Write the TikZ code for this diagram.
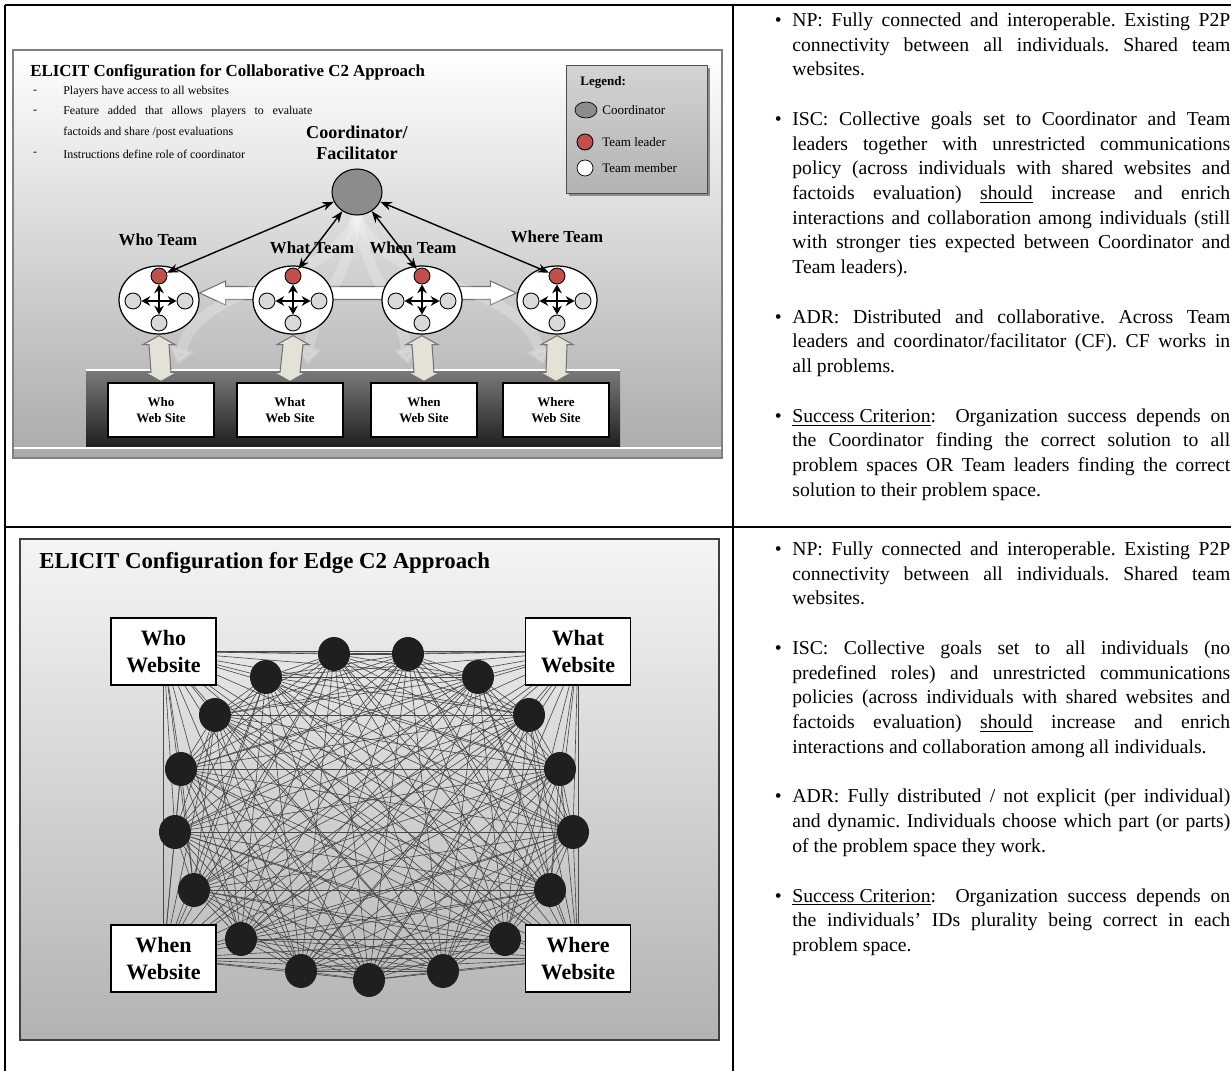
\documentclass[tikz,border=0pt]{standalone}
\usepackage{fontspec}
\setmainfont{Liberation Serif}
\usetikzlibrary{shapes.geometric, arrows.meta, positioning, calc}
\tolerance=9999
\hyphenpenalty=10000
\hbadness=10000
\frenchspacing

\pgfdeclarelayer{back}
\pgfdeclarelayer{links}
\pgfsetlayers{back,links,main}

\definecolor{leadred}{HTML}{C0504D}
\definecolor{membgray}{HTML}{D9D9D9}
\definecolor{hubgray}{HTML}{8C8C8C}
\definecolor{linkbeige}{HTML}{E4E2D6}

\tikzstyle{arrow} = [line width=0.8pt,<->,>=Stealth]
\tikzstyle{inarrow} = [line width=1.3pt,<->,>={Stealth[length=5pt,width=5.5pt]}]
\tikzstyle{tabrule} = [line width=1.2pt]
\tikzstyle{hub} = [ellipse, draw, fill=hubgray, minimum width=1cm, minimum height=0.92cm, line width=0.6pt]
\tikzstyle{team} = [ellipse, draw, fill=white, minimum width=1.6cm, minimum height=1.36cm, line width=0.7pt]
\tikzstyle{leader} = [circle, draw, fill=leadred, minimum size=0.32cm, inner sep=0pt, line width=0.5pt]
\tikzstyle{member} = [circle, draw, fill=membgray, minimum size=0.32cm, inner sep=0pt, line width=0.5pt]
\tikzstyle{site} = [draw, fill=white, minimum width=2.12cm, minimum height=1.08cm, align=center, inner sep=1pt, line width=0.7pt, font=\fontsize{7.4}{9}\selectfont\bfseries]
\tikzstyle{teamlbl} = [inner sep=0pt, font=\fontsize{9.6}{11}\selectfont\bfseries]
\tikzstyle{small} = [inner sep=0pt, font=\fontsize{6.8}{8}\selectfont]
\tikzstyle{legendtxt} = [anchor=west, inner sep=0pt, font=\fontsize{7.4}{9}\selectfont]
\tikzstyle{updown} = [draw=black!55, fill=linkbeige, line width=0.6pt, line join=miter]
\tikzstyle{sidebar} = [draw=black!55, fill=white, line width=0.6pt]
\tikzstyle{flowband} = [white, opacity=0.22, line width=6pt, -{Triangle[length=9pt,width=14pt]}]
\tikzstyle{agent} = [ellipse, fill=black!88, minimum width=0.64cm, minimum height=0.68cm, inner sep=0pt]
\tikzstyle{website} = [draw, fill=white, minimum width=2.1cm, minimum height=1.34cm, align=center, inner sep=1pt, line width=0.7pt, font=\fontsize{12.5}{15.3}\selectfont\bfseries]
\tikzstyle{tie} = [black!72, line width=0.35pt]
\tikzstyle{note} = [anchor=north west, text width=8.76cm, align=justify, inner sep=0pt, font=\fontsize{11.2}{14}\selectfont]

\begin{document}
\begin{tikzpicture}[x=0.02cm, y=-0.02cm]
        \useasboundingbox (0,0) rectangle (1231,1071);

        %table rules
        \draw [tabrule] (5,5) -- (1231,5);
        \draw [tabrule] (5,5) -- (5,1071);
        \draw [tabrule] (733,5) -- (733,1071);
        \draw [tabrule] (5,527) -- (1231,527);

        %panel backgrounds
        \begin{pgfonlayer}{back}
        \shade [top color=white, bottom color=black!33] (13,50) rectangle (722,458);
        \draw [black!50, line width=0.8pt] (13,50) rectangle (722,458);
        \shade [top color=black!52, bottom color=black!88] (86,370) rectangle (620,447);
        \draw [white, line width=1pt] (86,370) -- (620,370);
        \draw [white, line width=1pt] (14,448) -- (721,448);
        \fill [black!45] (569,68) rectangle (710,196);
        \shade [top color=black!4, bottom color=black!30] (20,539) rectangle (719,1040);
        \draw [black!75, line width=1.2pt] (20,539) rectangle (719,1040);
        \end{pgfonlayer}

        %collaborative title and notes
        \node at (30,72) [anchor=west, inner sep=0pt, font=\fontsize{9.6}{11}\selectfont\bfseries] (colltitle) {ELICIT Configuration for Collaborative C2 Approach};
        \node at (35,92) [small] (dash1) {-};
        \node at (63,92) [small, anchor=west] (item1) {Players have access to all websites};
        \node at (35,112) [small] (dash2) {-};
        \node at (63,112) [small, anchor=west] (item2) {\makebox[4.98cm][s]{Feature added that allows players to evaluate}};
        \node at (63,133) [small, anchor=west] (item2b) {factoids and share /post evaluations};
        \node at (35,154) [small] (dash3) {-};
        \node at (63,154) [small, anchor=west] (item3) {Instructions define role of coordinator};

        %legend
        \node at (636.5,129) [draw=black!70, top color=black!17, bottom color=black!30, minimum width=2.82cm, minimum height=2.56cm, inner sep=0pt] (legend) {};
        \node at (580,82) [legendtxt, font=\fontsize{7.4}{9}\selectfont\bfseries] (legendhead) {Legend:};
        \node at (586,110) [ellipse, draw, fill=hubgray, minimum width=0.44cm, minimum height=0.32cm, inner sep=0pt] (keyhub) {};
        \node at (602,110) [legendtxt] (keyhubtxt) {Coordinator};
        \node at (585,142) [leader] (keylead) {};
        \node at (602,142) [legendtxt] (keyleadtxt) {Team leader};
        \node at (585,168) [circle, draw, fill=white, minimum size=0.32cm, inner sep=0pt] (keymemb) {};
        \node at (602,168) [legendtxt] (keymembtxt) {Team member};

        %coordinator
        \node at (357,143) [align=center, inner sep=0pt, font=\fontsize{10.3}{11.9}\selectfont\bfseries] (hublbl) {Coordinator/\\Facilitator};
        \node at (357,192) [hub] (hub) {};

        %team labels
        \node at (158,240) [teamlbl] (wholbl) {Who Team};
        \node at (312,248) [teamlbl] (whatlbl) {What Team};
        \node at (413,248) [teamlbl] (whenlbl) {When Team};
        \node at (557,237) [teamlbl] (wherelbl) {Where Team};

        %teams
        \node at (159,300) [team] (t1) {};
        \node at (159,276) [leader] (l1) {};
        \node at (133,301) [member] (ml1) {};
        \node at (185,301) [member] (mr1) {};
        \node at (159,323) [member] (mb1) {};

        \node at (293,300) [team] (t2) {};
        \node at (293,276) [leader] (l2) {};
        \node at (267,301) [member] (ml2) {};
        \node at (319,301) [member] (mr2) {};
        \node at (293,323) [member] (mb2) {};

        \node at (422,300) [team] (t3) {};
        \node at (422,276) [leader] (l3) {};
        \node at (396,301) [member] (ml3) {};
        \node at (448,301) [member] (mr3) {};
        \node at (422,323) [member] (mb3) {};

        \node at (557,300) [team] (t4) {};
        \node at (557,276) [leader] (l4) {};
        \node at (531,301) [member] (ml4) {};
        \node at (583,301) [member] (mr4) {};
        \node at (557,323) [member] (mb4) {};

        \draw [inarrow] (ml1) -- (mr1);
        \draw [inarrow] (l1) -- (mb1);
        \draw [inarrow] (ml2) -- (mr2);
        \draw [inarrow] (l2) -- (mb2);
        \draw [inarrow] (ml3) -- (mr3);
        \draw [inarrow] (l3) -- (mb3);
        \draw [inarrow] (ml4) -- (mr4);
        \draw [inarrow] (l4) -- (mb4);

        \draw [arrow] (hub) -- (l1);
        \draw [arrow] (hub) -- (l2);
        \draw [arrow] (hub) -- (l3);
        \draw [arrow] (hub) -- (l4);

        %web sites
        \node at (161,410) [site] (s1) {Who\\Web Site};
        \node at (290,410) [site] (s2) {What\\Web Site};
        \node at (424,410) [site] (s3) {When\\Web Site};
        \node at (556,410) [site] (s4) {Where\\Web Site};

        %team to site block arrows
        \draw [updown] ($(t1.south)+(0,1)$) -- ++(16,9) -- ++(-6,0) -- ($(s1.north)+(10,-10)$) -- ++(6,0) -- ($(s1.north)+(0,-1)$) -- ++(-16,-9) -- ++(6,0) -- ($(t1.south)+(-10,10)$) -- ++(-6,0) -- cycle;
        \draw [updown] ($(t2.south)+(0,1)$) -- ++(16,9) -- ++(-6,0) -- ($(s2.north)+(10,-10)$) -- ++(6,0) -- ($(s2.north)+(0,-1)$) -- ++(-16,-9) -- ++(6,0) -- ($(t2.south)+(-10,10)$) -- ++(-6,0) -- cycle;
        \draw [updown] ($(t3.south)+(0,1)$) -- ++(16,9) -- ++(-6,0) -- ($(s3.north)+(10,-10)$) -- ++(6,0) -- ($(s3.north)+(0,-1)$) -- ++(-16,-9) -- ++(6,0) -- ($(t3.south)+(-10,10)$) -- ++(-6,0) -- cycle;
        \draw [updown] ($(t4.south)+(0,1)$) -- ++(16,9) -- ++(-6,0) -- ($(s4.north)+(10,-10)$) -- ++(6,0) -- ($(s4.north)+(0,-1)$) -- ++(-16,-9) -- ++(6,0) -- ($(t4.south)+(-10,10)$) -- ++(-6,0) -- cycle;

        \begin{pgfonlayer}{links}
        %white block arrow along the teams
        \coordinate (bl) at ($(t1.east)+(0,-7)$);
        \coordinate (br) at ($(t4.west)+(0,-7)$);
        \draw [sidebar] (bl) -- ++(26,-12) -- ++(0,5.5) -- ($(br)+(-26,-6.5)$) -- ++(0,-5.5) -- (br) -- ++(-26,12) -- ++(0,-5.5) -- ($(bl)+(26,6.5)$) -- ++(0,5.5) -- cycle;
        %faint flows from coordinator
        \coordinate (fe1) at (178,364);
        \coordinate (fe2) at (307,364);
        \coordinate (fe3) at (408,364);
        \coordinate (fe4) at (543,364);
        \draw [flowband] (hub.south) .. controls (330,290) and (200,280) .. (fe1);
        \draw [flowband] (hub.south) .. controls (345,290) and (315,300) .. (fe2);
        \draw [flowband] (hub.south) .. controls (370,290) and (400,300) .. (fe3);
        \draw [flowband] (hub.south) .. controls (385,290) and (520,280) .. (fe4);
        \end{pgfonlayer}

        %edge title
        \node at (39,563) [anchor=west, inner sep=0pt, font=\fontsize{13}{15}\selectfont\bfseries] (edgetitle) {ELICIT Configuration for Edge C2 Approach};

        %edge websites
        \node at (163.5,651.5) [website] (ws1) {Who\\Website};
        \node at (578,651.5) [website] (ws2) {What\\Website};
        \node at (163.5,958.5) [website] (ws3) {When\\Website};
        \node at (578,958.5) [website] (ws4) {Where\\Website};

        %individuals
        \node at (266,677) [agent] (a1) {};
        \node at (334,654) [agent] (a2) {};
        \node at (408,654) [agent] (a3) {};
        \node at (478,677) [agent] (a4) {};
        \node at (529,715) [agent] (a5) {};
        \node at (560,769) [agent] (a6) {};
        \node at (573,832) [agent] (a7) {};
        \node at (550,890) [agent] (a8) {};
        \node at (505,939) [agent] (a9) {};
        \node at (443,971) [agent] (a10) {};
        \node at (369,980) [agent] (a11) {};
        \node at (301,971) [agent] (a12) {};
        \node at (241,939) [agent] (a13) {};
        \node at (194,890) [agent] (a14) {};
        \node at (175,832) [agent] (a15) {};
        \node at (181,769) [agent] (a16) {};
        \node at (215,715) [agent] (a17) {};

        %all to all
        \begin{pgfonlayer}{links}
        \foreach \a [count=\i] in {ws1,ws2,ws3,ws4,a1,a2,a3,a4,a5,a6,a7,a8,a9,a10,a11,a12,a13,a14,a15,a16,a17}
          \foreach \b [count=\j] in {ws1,ws2,ws3,ws4,a1,a2,a3,a4,a5,a6,a7,a8,a9,a10,a11,a12,a13,a14,a15,a16,a17}
            {\ifnum\j>\i \draw [tie] (\a) -- (\b); \fi}
        \end{pgfonlayer}

        %collaborative notes
        \node at (792,9) [note] (np1) {\noindent\llap{\textbullet\hskip 6pt}\strut NP: Fully connected and interoperable. Existing P2P\linebreak
        connectivity between all individuals. Shared team\linebreak
        websites.\strut};
        \node [note, below=14pt of np1] (isc1) {\noindent\llap{\textbullet\hskip 6pt}\strut ISC: Collective goals set to Coordinator and Team\linebreak
        leaders together with unrestricted communications\linebreak
        policy (across individuals with shared websites and\linebreak
        factoids evaluation) \underline{should} increase and enrich\linebreak
        interactions and collaboration among individuals (still\linebreak
        with stronger ties expected between Coordinator and\linebreak
        Team leaders).\strut};
        \node [note, below=14pt of isc1] (adr1) {\noindent\llap{\textbullet\hskip 6pt}\strut ADR: Distributed and collaborative. Across Team\linebreak
        leaders and coordinator/facilitator (CF). CF works in\linebreak
        all problems.\strut};
        \node [note, below=14pt of adr1] (sc1) {\noindent\llap{\textbullet\hskip 6pt}\strut \underline{Success Criterion}:\ \ Organization success depends on\linebreak
        the Coordinator finding the correct solution to all\linebreak
        problem spaces OR Team leaders finding the correct\linebreak
        solution to their problem space.\strut};

        %edge notes
        \node at (792,538) [note] (np2) {\noindent\llap{\textbullet\hskip 6pt}\strut NP: Fully connected and interoperable. Existing P2P\linebreak
        connectivity between all individuals. Shared team\linebreak
        websites.\strut};
        \node [note, below=14pt of np2] (isc2) {\noindent\llap{\textbullet\hskip 6pt}\strut ISC: Collective goals set to all individuals (no\linebreak
        predefined roles) and unrestricted communications\linebreak
        policies (across individuals with shared websites and\linebreak
        factoids evaluation) \underline{should} increase and enrich\linebreak
        interactions and collaboration among all individuals.\strut};
        \node [note, below=14pt of isc2] (adr2) {\noindent\llap{\textbullet\hskip 6pt}\strut ADR: Fully distributed / not explicit (per individual)\linebreak
        and dynamic. Individuals choose which part (or parts)\linebreak
        of the problem space they work.\strut};
        \node [note, below=14pt of adr2] (sc2) {\noindent\llap{\textbullet\hskip 6pt}\strut \underline{Success Criterion}:\ \ Organization success depends on\linebreak
        the individuals’ IDs plurality being correct in each\linebreak
        problem space.\strut};

\end{tikzpicture}
\end{document}
